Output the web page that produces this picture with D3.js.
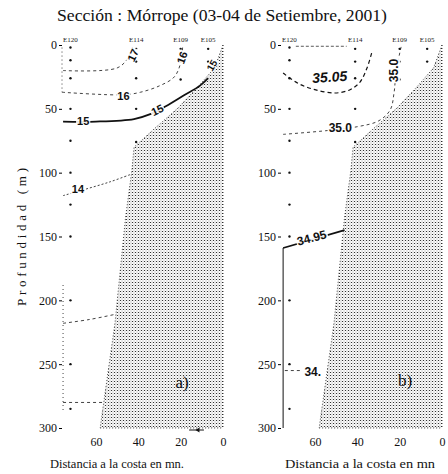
<!DOCTYPE html>
<html>
<head>
<meta charset="utf-8">
<title>Sección Mórrope</title>
<script src="https://cdn.jsdelivr.net/npm/d3@7"></script>
<style>
body{margin:0;background:#fff;}
</style>
</head>
<body>
<svg width="448" height="474"></svg>
<script>
// estaciones y profundidades de muestreo
var stations = ["E120", "E114", "E109", "E105"];
var stationDist = [72, 41, 20, 7];
var sampleDepths = [[2, 12, 26, 50, 75, 100, 125, 150, 200, 250, 285], [3, 13, 26, 50, 76], [3, 13, 27], [3, 13]];

// perfil del fondo (mn, m)
var bottomDist = [0, 4, 12, 21, 32, 42, 43, 46, 51, 58];
var bottomDepth = [0, 18, 33, 49, 65, 80, 98, 135, 218, 300];

var depthTicks = [0, 50, 100, 150, 200, 250, 300];
var distTicks = [60, 40, 20, 0];

// a) temperatura: isotermas [mn, m]
var t17 = [[75.5, 20], [50, 18], [44.8, 10], [42.5, 0]];
var t16 = [[76, 37], [47, 39], [39, 37], [30, 32], [23, 25], [20, 14], [19, 0]];
var t15 = [[75.5, 60], [60, 60], [42, 58], [34, 54], [27, 48], [18, 39], [11, 32], [7, 26]];
var t14 = [[75.5, 118], [65, 113], [53, 107], [43, 101]];
var t13 = [[75.5, 218], [63, 215], [51, 211]];
var t12 = [[75.5, 280], [56.6, 280]];
var tEdge1 = [[76, 2], [76, 37]];
var tEdge2 = [[75.5, 188], [75.5, 288]];
var tLabels = ["17", "16", "16", "15", "15", "15", "14"];
var tLabelPos = [[42.5, 8], [47, 40], [19.3, 10], [66, 60], [31, 51], [5.2, 16], [68.5, 113]];
var tLabelAngle = [-65, 0, -70, 0, -25, -60, 0];

// b) salinidad: isohalinas [mn, m]
var s3505 = [[75, 22], [68, 30], [60, 35], [50.5, 37.6], [43.4, 35], [38.7, 29], [35.4, 18], [33, 5]];
var s350 = [[75, 70], [54, 67], [40, 64], [30, 59.5], [24.5, 51], [22.6, 37], [21.7, 21], [19.3, 1.5]];
var s3495 = [[75, 159], [46, 145]];
var s349 = [[74.2, 255], [66, 255]];
var sTop = [[69, 1], [45, 1]];
var sLabels = ["35.05", "35.0", "35.0", "34.95", "34."];
var sLabelPos = [[53, 25], [48, 65], [22.6, 20], [61.5, 151], [61, 256]];
var sLabelAngle = [-4, 0, -90, -15, 0];

var serif = '"Liberation Serif", "Times New Roman", "DejaVu Serif", serif';
var sans = '"Liberation Sans", Arial, sans-serif';

var svg = d3.select("svg");

var y = d3.scaleLinear().domain([0, 300]).range([45, 428]);
var xA = d3.scaleLinear().domain([76, 0]).range([62, 223]);
var xB = d3.scaleLinear().domain([76, 0]).range([281, 442]);

// punteado del fondo
var defs = svg.append("defs");
var pat = defs.append("pattern").attr("id", "stip")
  .attr("width", 3).attr("height", 3).attr("patternUnits", "userSpaceOnUse");
pat.append("rect").attr("width", 3).attr("height", 3).attr("fill", "#fff");
pat.append("rect").attr("x", 0).attr("y", 0).attr("width", 1).attr("height", 1).attr("fill", "#333");
pat.append("rect").attr("x", 1.5).attr("y", 1.5).attr("width", 1).attr("height", 1).attr("fill", "#999");
pat.append("rect").attr("x", 1.5).attr("y", 0).attr("width", 1).attr("height", 1).attr("fill", "#ccc");

var bottom = bottomDist.map(function(d, i) { return [d, bottomDepth[i]]; });

function drawPanel(x, lines, labels, labelPos, labelAngle, labelSize) {
  var g = svg.append("g");
  var line = d3.line().x(function(d) { return x(d[0]); }).y(function(d) { return y(d[1]); })
    .curve(d3.curveCatmullRom);
  var straight = d3.line().x(function(d) { return x(d[0]); }).y(function(d) { return y(d[1]); });

  // fondo
  g.append("path").attr("d", straight(bottom.concat([[0, 300]])) + "Z")
    .attr("fill", "url(#stip)");
  g.append("path").attr("d", straight(bottom))
    .attr("fill", "none").attr("stroke", "#222").attr("stroke-width", 0.8).attr("stroke-dasharray", "1,2");
  g.append("line").attr("x1", x(0)).attr("x2", x(0)).attr("y1", y(0)).attr("y2", y(300))
    .attr("stroke", "#222").attr("stroke-width", 0.8).attr("stroke-dasharray", "1,2");
  g.append("line").attr("x1", x(58)).attr("x2", x(0)).attr("y1", y(300)).attr("y2", y(300))
    .attr("stroke", "#222").attr("stroke-width", 0.8).attr("stroke-dasharray", "1,2");

  // contornos
  lines.forEach(function(l) {
    g.append("path").attr("d", line(l.data))
      .attr("fill", "none").attr("stroke", "#111")
      .attr("stroke-width", l.w).attr("stroke-dasharray", l.dash);
  });

  // puntos de muestreo
  stations.forEach(function(s, i) {
    g.selectAll(null).data(sampleDepths[i]).enter().append("circle")
      .attr("cx", x(stationDist[i])).attr("cy", function(d) { return y(d); })
      .attr("r", 1.2).attr("fill", "#111");
    g.append("text").attr("x", x(stationDist[i])).attr("y", 42)
      .attr("text-anchor", "middle").style("font-family", serif).style("font-size", "7px")
      .attr("fill", "#222").text(s);
  });

  // etiquetas de contorno
  labels.forEach(function(t, i) {
    var px = x(labelPos[i][0]), py = y(labelPos[i][1]);
    var lg = g.append("g").attr("transform", "translate(" + px + "," + py + ") rotate(" + labelAngle[i] + ")");
    var tx = lg.append("text").attr("text-anchor", "middle").attr("dy", "0.35em")
      .style("font-family", sans).style("font-weight", "bold")
      .style("font-size", labelSize[i] + "px").attr("fill", "#111").text(t);
    var bb = tx.node().getBBox();
    lg.insert("rect", "text").attr("x", bb.x - 1).attr("y", bb.y + 1)
      .attr("width", bb.width + 2).attr("height", bb.height - 2).attr("fill", "#fff").attr("opacity", 0.9);
  });

  // ejes
  var yAxis = g.append("g").attr("transform", "translate(" + x(76) + ",0)")
    .call(d3.axisLeft(y).tickValues(depthTicks).tickSize(3).tickPadding(2));
  yAxis.select(".domain").remove();
  var xAxis = g.append("g").attr("transform", "translate(0,434)")
    .call(d3.axisBottom(x).tickValues(distTicks).tickSize(0).tickPadding(3));
  xAxis.select(".domain").remove();
  g.selectAll(".tick text").style("font-family", serif).style("font-size", "12px").attr("fill", "#111");
  return g;
}

var gA = drawPanel(xA, [
  {data: t17, w: 0.8, dash: "3,3"},
  {data: t16, w: 0.8, dash: "3,3"},
  {data: t15, w: 1.8, dash: null},
  {data: t14, w: 0.8, dash: "2,2"},
  {data: t13, w: 0.8, dash: "3,3"},
  {data: t12, w: 0.8, dash: "3,3"},
  {data: tEdge1, w: 0.8, dash: "1,3"},
  {data: tEdge2, w: 0.8, dash: "1,3"}
], tLabels, tLabelPos, tLabelAngle, [11, 11, 11, 11, 11, 10, 11]);

// marca en el fondo de a)
gA.append("path")
  .attr("d", "M" + xA(16) + "," + (y(300) + 2) + "H" + xA(9))
  .attr("stroke", "#111").attr("stroke-width", 1);
gA.append("path")
  .attr("d", "M" + xA(13) + "," + (y(300) + 2) + "l4,-2.5v5z").attr("fill", "#111");

var gB = drawPanel(xB, [
  {data: s3505, w: 1.2, dash: "4,3"},
  {data: s350, w: 0.8, dash: "3,3"},
  {data: s3495, w: 1.8, dash: null},
  {data: s349, w: 0.8, dash: "3,3"},
  {data: sTop, w: 0.7, dash: "3,2"}
], sLabels, sLabelPos, sLabelAngle, [14, 12, 12, 12, 12]);

// linea del eje en b)
gB.append("line").attr("x1", xB(75)).attr("x2", xB(75)).attr("y1", y(159)).attr("y2", y(300))
  .attr("stroke", "#111").attr("stroke-width", 1);
gB.selectAll("text").filter(function() { return d3.select(this).text() == "35.05"; })
  .style("font-style", "italic");

// textos
function addText(x, yy, t, size, len) {
  var e = svg.append("text").attr("x", x).attr("y", yy).attr("text-anchor", "middle")
    .style("font-family", serif).style("font-size", size + "px").attr("fill", "#111").text(t);
  if (len) e.attr("textLength", len).attr("lengthAdjust", "spacingAndGlyphs");
  return e;
}
addText(222, 21, "Sección : Mórrope (03-04 de Setiembre, 2001)", 16, 330);
addText(117, 468, "Distancia a la costa en mn.", 12, 134);
addText(360, 468, "Distancia a la costa en mn", 12, 150);
addText(182, 388, "a)", 17);
addText(405, 386, "b)", 17);
addText(0, 0, "Profundidad (m)", 13)
  .attr("x", null).attr("y", null)
  .attr("transform", "translate(26,237) rotate(-90)")
  .attr("textLength", 138).attr("lengthAdjust", "spacing");
</script>
</body>
</html>
